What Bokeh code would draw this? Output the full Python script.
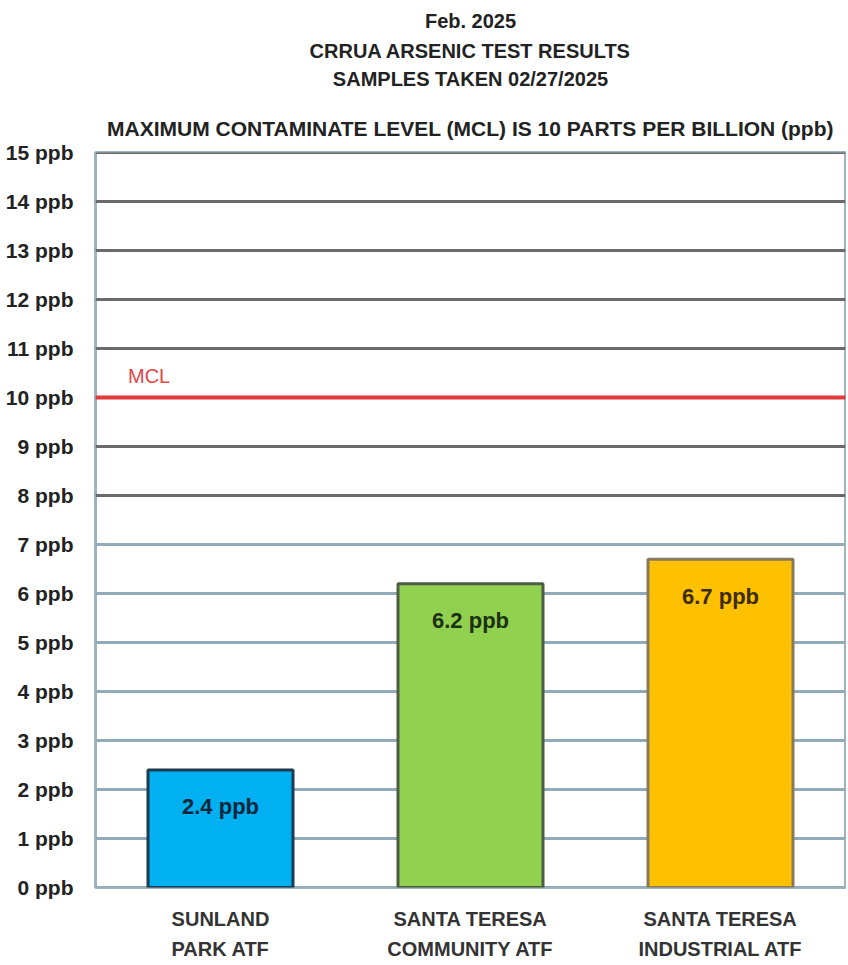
from bokeh.plotting import figure
from bokeh.models import Label, FixedTicker, ColumnDataSource, Range1d, Title, LinearAxis
from bokeh.core.properties import value
from bokeh.embed import file_html
from bokeh.resources import INLINE

# ---- data ----
categories = ["SUNLAND PARK ATF", "SANTA TERESA COMMUNITY ATF", "SANTA TERESA INDUSTRIAL ATF"]
label_line1 = ["SUNLAND", "SANTA TERESA", "SANTA TERESA"]
label_line2 = ["PARK ATF", "COMMUNITY ATF", "INDUSTRIAL ATF"]
values = [2.4, 6.2, 6.7]
value_labels = ["2.4 ppb", "6.2 ppb", "6.7 ppb"]
bar_colors = ["#00b0f0", "#92d050", "#ffc000"]
bar_line_colors = ["#1d3a50", "#4d5c44", "#857a5e"]
value_label_colors = ["#10263a", "#1c3014", "#3b2c00"]
y_ticks = list(range(0, 16))
y_tick_labels = [f"{t} ppb" for t in y_ticks]
grid_colors = ["#93abb8"] * 8 + ["#6a6a6a"] * 8
mcl = 10
titles = ["Feb. 2025", "CRRUA ARSENIC TEST RESULTS", "SAMPLES TAKEN 02/27/2025"]
subtitle = "MAXIMUM CONTAMINATE LEVEL (MCL) IS 10 PARTS PER BILLION (ppb)"

FONT = "Liberation Sans"
W, H = 846, 962

# category slot centres on a numeric axis
xs = [i + 0.5 for i in range(len(categories))]

p = figure(
    width=W, height=H,
    x_range=Range1d(0, len(categories)),
    y_range=Range1d(0, 15),
    output_backend="svg", toolbar_location=None,
    min_border_left=95, min_border_right=1, min_border_top=152, min_border_bottom=74,
)
p.title = None
p.background_fill_color = "white"
p.border_fill_color = "white"
p.outline_line_color = "#9db4bf"
p.outline_line_width = 3
p.xgrid.grid_line_color = None
p.ygrid.grid_line_color = None

# grid lines
p.hspan(y=y_ticks, line_color=grid_colors, line_width=3)
# MCL line
p.hspan(y=[mcl], line_color="#e23b3b", line_width=4)

src = ColumnDataSource(dict(x=xs, top=values, fill=bar_colors, line=bar_line_colors,
                            lab=value_labels, labc=value_label_colors))
p.vbar(x="x", top="top", width=0.58, bottom=0, source=src, fill_color="fill",
       line_color="line", line_width=3)
p.text(x="x", y="top", text="lab", source=src, text_color="labc",
       text_font=value(FONT), text_font_size="22px", text_font_style="bold",
       text_align="center", text_baseline="middle", y_offset=37)

p.add_layout(Label(x=0.13, y=mcl, text="MCL", text_color="#e04848",
                   text_font=FONT, text_font_size="20px", text_baseline="bottom",
                   y_offset=11))

# y axis
p.yaxis.ticker = FixedTicker(ticks=y_ticks)
p.yaxis.major_label_overrides = {t: l for t, l in zip(y_ticks, y_tick_labels)}
p.yaxis.major_label_text_font = FONT
p.yaxis.major_label_text_font_style = "bold"
p.yaxis.major_label_text_font_size = "21px"
p.yaxis.major_label_text_color = "#222222"
p.yaxis.major_label_standoff = 16
p.yaxis.axis_line_color = None
p.yaxis.major_tick_line_color = None
p.yaxis.minor_tick_line_color = None


def style_x(ax, lines, standoff):
    ax.ticker = FixedTicker(ticks=xs)
    ax.major_label_overrides = dict(zip(xs, lines))
    ax.major_label_text_font = FONT
    ax.major_label_text_font_style = "bold"
    ax.major_label_text_font_size = "20px"
    ax.major_label_text_color = "#333333"
    ax.major_label_standoff = standoff
    ax.axis_line_color = None
    ax.major_tick_line_color = None
    ax.minor_tick_line_color = None
    ax.major_tick_out = 0
    ax.major_tick_in = 0


style_x(p.xaxis[0], label_line1, 20)
ax2 = LinearAxis()
style_x(ax2, label_line2, 5)
p.add_layout(ax2, "below")

# titles (the last added is the topmost)
p.add_layout(Title(text=subtitle, align="center", text_font=FONT, text_font_style="bold",
                   text_font_size="21px", text_color="#222222", standoff=26), "above")
# small spacer between the subtitle and the title block
p.add_layout(Title(text=" ", text_font_size="8px", standoff=1), "above")
for txt, st in zip(reversed(titles), [0, 8, 4]):
    p.add_layout(Title(text=txt, align="center", text_font=FONT,
                       text_font_style="bold", text_font_size="20px", text_color="#222222",
                       standoff=st), "above")

open("out.html", "w").write(file_html(p, INLINE))
